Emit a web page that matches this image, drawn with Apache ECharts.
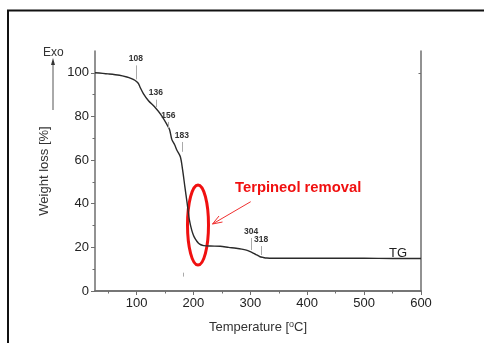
<!DOCTYPE html>
<html lang="en">
<head>
  <meta charset="UTF-8">
  <title>TG curve</title>
  <style>
    html, body { margin: 0; padding: 0; overflow: hidden; background: #fff; }
    #chart { width: 484px; height: 343px; }
  </style>
</head>
<body>
  <div id="chart"></div>
  <script src="https://cdn.jsdelivr.net/npm/echarts@6/dist/echarts.min.js"></script>
  <script>
    // TG curve
    var temps = [27, 50, 70, 83, 90, 97, 103, 106, 112, 121, 132, 144, 153, 158, 162, 167, 171, 177, 181, 185,
      189, 193, 197, 200, 203, 206, 209, 213, 218, 230, 247, 262, 275, 285, 293, 300, 305, 309, 313, 317,
      322, 329, 340, 360, 400, 450, 500, 550, 600];
    var weights = [100, 99.5, 98.9, 98.1, 97.5, 96.6, 95.2, 93.5, 90.5, 87.2, 84.3, 80.4, 76.5, 74, 69.5, 67, 64.5, 61.5, 55.5, 47.7,
      40.1, 32.5, 27.9, 25.6, 24, 22.8, 21.9, 21.2, 20.8, 20.6, 20.5, 20, 19.6, 19.2, 18.7, 18, 17.4, 16.8, 16.3, 15.7,
      15.4, 15.1, 15, 15, 15, 15, 15, 14.9, 14.9];

    // little marker lines with their temperature labels
    var markNames = ['108', '136', '156', '183', '304', '318'];
    var markX = [99, 134, 156, 179.5, 301.5, 319];
    var markTop = [103.4, 87.7, 77.5, 68.3, 24.3, 20.6];
    var markBottom = [97, 84.3, 74.6, 63.8, 18.8, 16.5];

    var xTicks = [100, 200, 300, 400, 500, 600];
    var xMinor = [50, 150, 250, 350, 450, 550];
    var yTicks = [0, 20, 40, 60, 80, 100];
    var yMinor = [10, 30, 50, 70, 90];

    var font = 'Liberation Sans, Arial, sans-serif';
    var axisColor = '#6e6e6e';
    var textColor = '#222';

    var points = temps.map(function (t, i) { return [t, weights[i]]; });

    var markData = markNames.map(function (n, i) {
      return [
        { name: n, coord: [markX[i], markBottom[i]] },
        { coord: [markX[i], markTop[i]] }
      ];
    });
    // faint stray tick under the curve
    markData.push([{ name: '', coord: [182.3, 8.4] }, { coord: [182.3, 6.6] }]);

    const myChart = echarts.init(document.getElementById('chart'));

    var option = {
      backgroundColor: '#fff',
      animation: false,
      grid: { left: 95, top: 51, right: 63, bottom: 52 },
      xAxis: [
        {
          type: 'value', min: 27, max: 600, position: 'bottom',
          name: 'Temperature [{s|o}C]', nameLocation: 'middle', nameGap: 29,
          nameTextStyle: {
            fontFamily: font, fontSize: 13, color: '#333',
            rich: { s: { fontFamily: font, fontSize: 9, color: '#333', verticalAlign: 'top', padding: [0, 0, 5, 0] } }
          },
          axisLine: { lineStyle: { color: axisColor, width: 1.5 } },
          axisTick: { customValues: xTicks, length: 4, lineStyle: { color: axisColor } },
          axisLabel: { customValues: xTicks, fontFamily: font, fontSize: 13, color: textColor, margin: 6 },
          splitLine: { show: false }
        },
        {
          type: 'value', min: 27, max: 600, position: 'bottom',
          axisLine: { show: false },
          axisTick: { customValues: xMinor, length: 2.5, lineStyle: { color: axisColor } },
          axisLabel: { show: false },
          splitLine: { show: false }
        },
        {
          type: 'value', min: 27, max: 600, position: 'top',
          axisLine: { lineStyle: { color: axisColor, width: 1.5 } },
          axisTick: { show: false },
          axisLabel: { show: false },
          splitLine: { show: false }
        }
      ],
      yAxis: [
        {
          type: 'value', min: 0, max: 110, position: 'left',
          name: 'Weight loss [%]', nameLocation: 'middle', nameGap: 44,
          nameTextStyle: { fontFamily: font, fontSize: 13, color: '#333' },
          axisLine: { lineStyle: { color: axisColor, width: 1.5 } },
          axisTick: { customValues: yTicks, length: 4, lineStyle: { color: axisColor } },
          axisLabel: { customValues: yTicks, fontFamily: font, fontSize: 13, color: textColor, margin: 6 },
          splitLine: { show: false }
        },
        {
          type: 'value', min: 0, max: 110, position: 'left',
          axisLine: { show: false },
          axisTick: { customValues: yMinor, length: 2.5, lineStyle: { color: axisColor } },
          axisLabel: { show: false },
          splitLine: { show: false }
        },
        {
          type: 'value', min: 0, max: 110, position: 'right',
          axisLine: { lineStyle: { color: axisColor, width: 1.5 } },
          axisTick: { customValues: [100], inside: true, length: 2.5, lineStyle: { color: axisColor } },
          axisLabel: { show: false },
          splitLine: { show: false }
        }
      ],
      series: [
        {
          type: 'line',
          xAxisIndex: 0,
          yAxisIndex: 0,
          data: points,
          showSymbol: false,
          smooth: 0.3,
          lineStyle: { color: '#2a2a2a', width: 1.4 },
          markLine: {
            silent: true,
            symbol: 'none',
            lineStyle: { color: '#aaa', width: 1, type: 'solid' },
            label: {
              position: 'end', distance: 2, formatter: '{b}',
              fontFamily: font, fontSize: 8.5, fontWeight: 'bold', color: '#333'
            },
            data: markData
          }
        }
      ],
      graphic: [
        // outer frame of the figure
        { type: 'polyline', shape: { points: [[8, 343], [8, 10.5], [484, 10.5]] }, style: { stroke: '#111', lineWidth: 2, fill: null } },
        // Exo arrow
        { type: 'text', x: 43, y: 47, style: { text: 'Exo', fontFamily: font, fontSize: 12, fill: '#333' } },
        { type: 'line', shape: { x1: 53, y1: 110, x2: 53, y2: 64 }, style: { stroke: '#555', lineWidth: 1 } },
        { type: 'polygon', shape: { points: [[53, 58], [51, 65], [55, 65]] }, style: { fill: '#333' } },
        // TG label
        { type: 'text', x: 389, y: 247, style: { text: 'TG', fontFamily: font, fontSize: 13, fill: '#222' } },
        // red annotation
        { type: 'ellipse', shape: { cx: 198, cy: 225, rx: 10.5, ry: 40 }, style: { stroke: '#f01010', lineWidth: 3, fill: null } },
        { type: 'line', shape: { x1: 250.7, y1: 201.7, x2: 212.5, y2: 224 }, style: { stroke: '#f03030', lineWidth: 1 } },
        { type: 'polyline', shape: { points: [[219, 216], [212.5, 224], [222.5, 222]] }, style: { stroke: '#f03030', lineWidth: 1, fill: null } },
        { type: 'text', x: 235, y: 180, style: { text: 'Terpineol removal', fontFamily: font, fontSize: 14.8, fontWeight: 'bold', fill: '#f01010' } }
      ]
    };

    myChart.setOption(option);
  </script>
</body>
</html>
